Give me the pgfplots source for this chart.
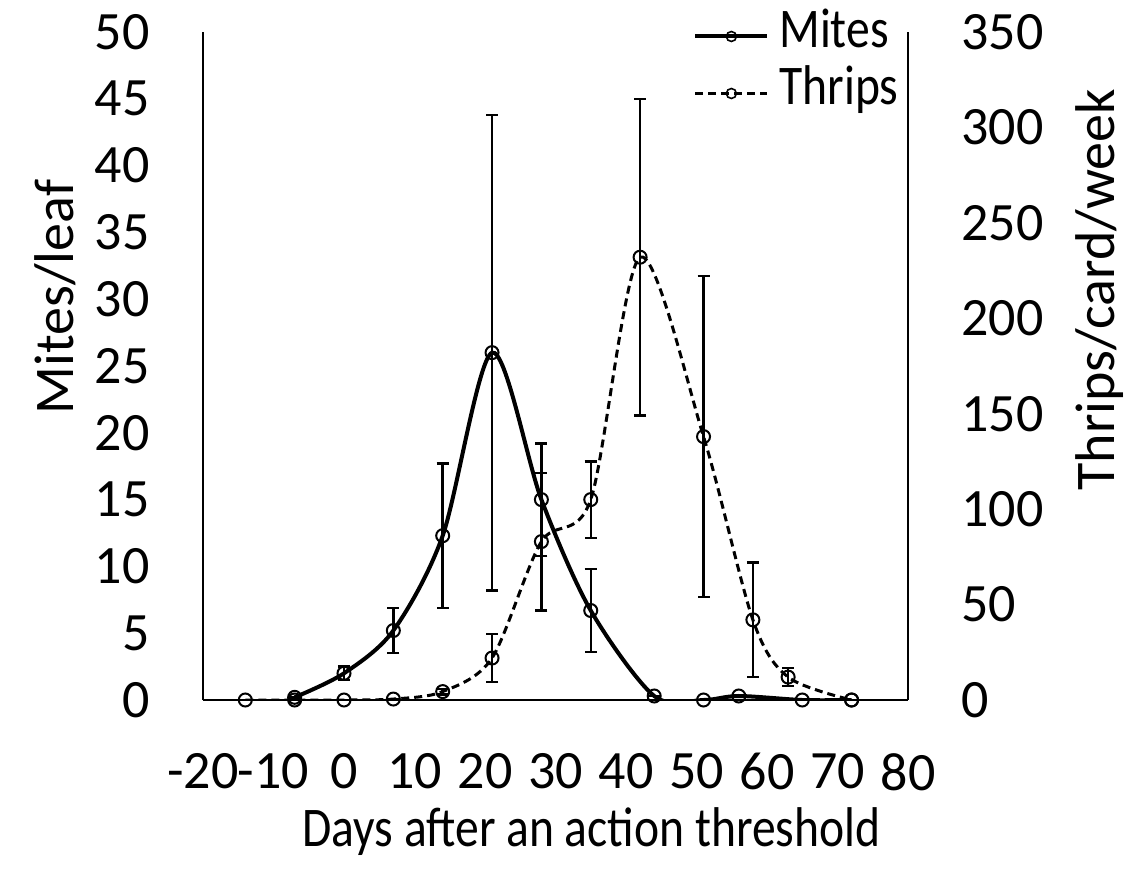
\documentclass[border=0pt]{standalone}
\usepackage{pgfplots}
\usepackage{pgfplotstable}
\pgfplotsset{compat=1.18}
\usepackage{fontspec}
\setmainfont{Carlito}
\newfontfamily\narrowf[FakeStretch=0.85]{Carlito}
\newcommand\bigf{\fontsize{28}{33}\selectfont}
\newcommand\tickf{\fontsize{27}{32}\selectfont}
\newcommand\midf{\narrowf\fontsize{28}{33}\selectfont}

\pgfplotstableread{
x y e
-7 0.2 0
0 2.0 0.5
7 5.2 1.7
14 12.3 5.4
21 26.0 17.8
28 15.0 4.2
35 6.7 3.1
44 0.3 0
51 0 0
56 0.3 0
65 0 0
72 0 0
}\mites

\pgfplotstableread{
x y e
-14 0 0
-7 0 0
0 0 0
7 0.5 0
14 4.4 1.5
21 22 12.6
28 83 36
35 105 20
42 232 83
51 138 84
58 42 30
63 12 4.7
72 0 0
}\thrips

\begin{document}
\begin{tikzpicture}
\useasboundingbox (-101.5pt,-84pt) rectangle (468.5pt,350pt);
\pgfplotsset{
  common/.style={
    scale only axis, width=352.5pt, height=334pt,
    xmin=-20, xmax=80,
    major tick length=0pt,
    tick label style={font=\tickf},
    /pgf/number format/assume math mode=true,
    axis line style={line width=1.2pt, -},
  },
  mitesline/.style={black, line width=2pt, mark=o, mark options={solid, line width=1pt, mark size=3.25pt}},
  thripsline/.style={black, line width=1.5pt, dash pattern=on 4pt off 2.5pt, mark=o, mark options={solid, line width=1pt, mark size=3.25pt}},
  ebar/.style={error bars/.cd, y dir=both, y explicit,
    error bar style={line width=1.2pt, solid},
    error mark options={rotate=90, mark size=3pt, line width=1.2pt, solid}},
}
\begin{axis}[common,
  axis x line*=bottom, axis y line*=left,
  ymin=0, ymax=50, ytick={0,5,...,50},
  xtick={-20,-10,...,80},
  xticklabels={{-20\hspace{14pt}},-10,0,10,20,30,40,50,60,70,80},
  yticklabel style={anchor=east, inner sep=0pt, xshift=-26.5pt},
  xticklabel style={anchor=north, inner sep=0pt, yshift=-26.5pt},
  xlabel={Days after an action threshold}, ylabel={Mites/leaf},
  every axis x label/.style={at={(axis description cs:0.551,0)}, yshift=-66pt, anchor=center, font=\midf},
  every axis y label/.style={at={(axis description cs:0,0.603)}, xshift=-74pt, rotate=90, anchor=center, font=\bigf},
]
\addplot[mitesline, smooth, ebar] table[x=x, y=y, y error=e]{\mites};
\end{axis}
\begin{axis}[common,
  axis y line*=right, axis x line=none,
  ymin=0, ymax=350, ytick={0,50,...,350},
  yticklabel style={anchor=west, inner sep=0pt, xshift=26.5pt},
  ylabel={Thrips/card/week},
  every axis y label/.style={at={(axis description cs:1,0.614)}, xshift=96pt, rotate=90, anchor=center, font=\bigf},
  legend image code/.code={
    \draw[#1, mark=none] (0pt,0pt) -- (36pt,0pt);
    \draw[#1, mark options={solid, line width=0.8pt, mark size=2.5pt}] plot coordinates {(18pt,0pt)};
  },
  legend style={draw=none, fill=none, font=\midf, at={(axis description cs:0.695,1)}, anchor=west, yshift=-16.5pt,
    inner sep=0pt, row sep=0pt, column sep=5pt,
    nodes={inner sep=0pt, text height=20pt, text depth=8.5pt}},
  legend cell align=left,
]
\addlegendimage{mitesline}
\addlegendentry{Mites}
\addlegendimage{thripsline}
\addlegendentry{Thrips}
\addplot[thripsline, smooth, forget plot, ebar] table[x=x, y=y, y error=e]{\thrips};
\end{axis}
\end{tikzpicture}
\end{document}
